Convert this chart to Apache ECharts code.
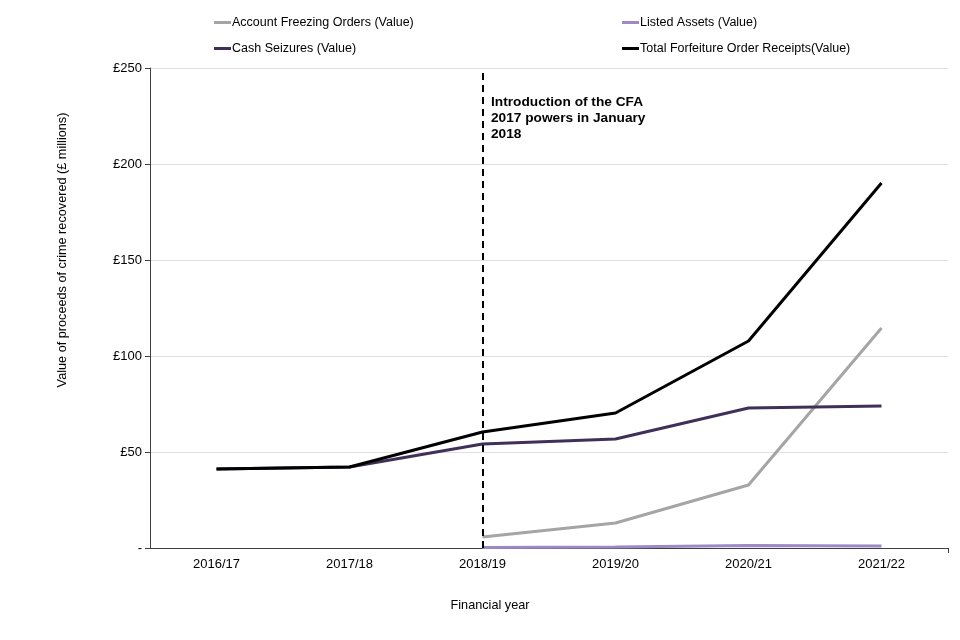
<!DOCTYPE html>
<html><head><meta charset="utf-8">
<script src="https://cdn.jsdelivr.net/npm/echarts@6/dist/echarts.min.js"></script>
<style>html,body{margin:0;padding:0;background:#fff}#c{width:960px;height:640px}</style>
</head><body><div id="c"></div>
<script>
var categories = ['2016/17','2017/18','2018/19','2019/20','2020/21','2021/22'];
var accountFreezing = [null, null, 5.7, 13.0, 32.8, 114.6];
var listedAssets = [null, null, 0.2, 0.5, 1.3, 1.0];
var cashSeizures = [41.1, 42.2, 54.2, 56.8, 72.9, 74.0];
var totalForfeiture = [41.1, 42.2, 60.4, 70.3, 107.8, 190.1];
var yTicks = [0, 50, 100, 150, 200, 250];
var names = ['Account Freezing Orders (Value)','Listed Assets (Value)','Cash Seizures (Value)','Total Forfeiture Order Receipts(Value)'];
var colors = ['#a5a5a5','#9f88c6','#403058','#000000'];
var font = 'Liberation Sans, Arial, sans-serif';

function leg(i, left, top){
  return {data:[names[i]], left:left, top:top, icon:'rect', itemWidth:17, itemHeight:3, itemGap:0,
    padding:0, textStyle:{fontFamily:font, fontSize:12.5, color:'#000', padding:[0,0,0,-4]}};
}
var chart = echarts.init(document.getElementById('c'));
chart.setOption({
  animation:false,
  color: colors,
  legend:[leg(0,214,16), leg(1,622,16), leg(2,214,42), leg(3,622,42)],
  grid:{left:150, right:12, top:68, bottom:92},
  xAxis:{type:'category', data:categories, boundaryGap:true,
    axisLine:{lineStyle:{color:'#404040', width:1}},
    axisTick:{alignWithLabel:true, length:5, lineStyle:{color:'#404040'}},
    axisLabel:{fontFamily:font, fontSize:13, color:'#000', margin:10}},
  yAxis:{type:'value', min:0, max:250, interval:50,
    axisLine:{show:true, lineStyle:{color:'#404040', width:1}},
    axisTick:{show:true, length:5, lineStyle:{color:'#404040'}},
    splitLine:{lineStyle:{color:'#e0e0e0'}},
    axisLabel:{fontFamily:font, fontSize:13, color:'#000', margin:8,
      formatter:function(v){ return v===yTicks[0] ? '-' : '£'+v; }}},
  series:[
    {name:names[0], type:'line', data:accountFreezing, symbol:'none', lineStyle:{width:3, color:colors[0]}},
    {name:names[1], type:'line', data:listedAssets, symbol:'none', lineStyle:{width:3, color:colors[1]}},
    {name:names[2], type:'line', data:cashSeizures, symbol:'none', lineStyle:{width:3, color:colors[2]}},
    {name:names[3], type:'line', data:totalForfeiture, symbol:'none', lineStyle:{width:3, color:colors[3]},
      markLine:{symbol:'none', silent:true, label:{show:false},
        lineStyle:{type:[7,5], color:'#000', width:2},
        data:[[{coord:['2018/19',0]},{coord:['2018/19',250]}]]}}
  ],
  graphic:[
    {type:'text', left:491, top:94,
      style:{text:'Introduction of the CFA\n2017 powers in January\n2018', font:'bold 13.7px '+font, fill:'#000', lineHeight:16}},
    {type:'text', x:62, y:250, rotation:Math.PI/2,
      style:{text:'Value of proceeds of crime recovered (£ millions)', font:'12.7px '+font, fill:'#000', align:'center', verticalAlign:'middle'}},
    {type:'text', x:490, y:605,
      style:{text:'Financial year', font:'12.7px '+font, fill:'#000', align:'center', verticalAlign:'middle'}},
    {type:'line', shape:{x1:948.5, y1:548, x2:948.5, y2:553}, style:{stroke:'#404040', lineWidth:1}}
  ]
});
</script></body></html>
